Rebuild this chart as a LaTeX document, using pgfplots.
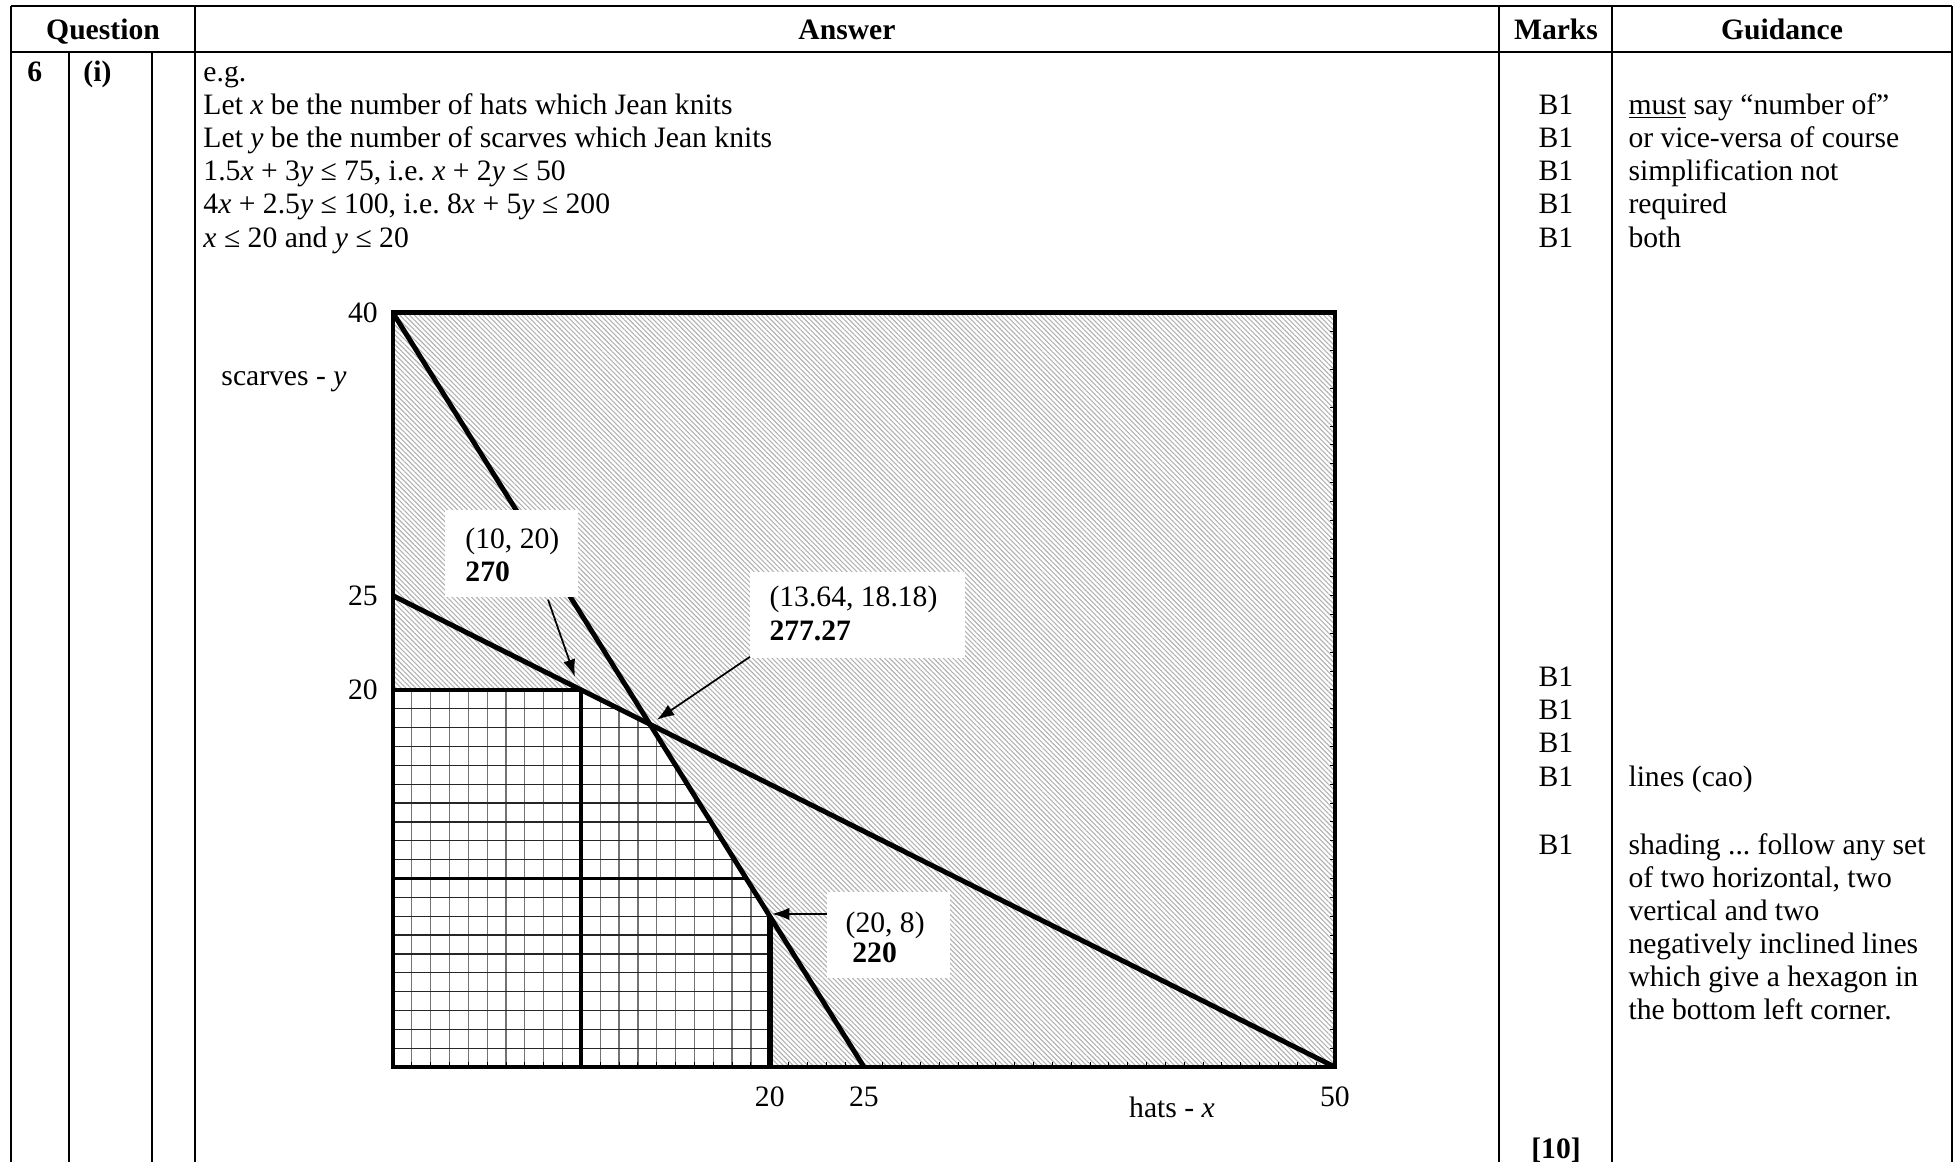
\documentclass[border=0pt,12pt]{standalone}
\usepackage{fontspec}
\setmainfont{Liberation Serif}
\usepackage{pgfplots}
\pgfplotsset{compat=1.18}
\usetikzlibrary{patterns.meta,arrows.meta}
\frenchspacing

\begin{document}
\begin{tikzpicture}[x=0.405pt,y=-0.405pt,
  t/.style={anchor=base west,inner sep=0pt},
  c/.style={anchor=base,inner sep=0pt}]
\useasboundingbox (0,0) rectangle (1954,1162);

% table rules
\begin{scope}[line width=0.8pt]
\draw (11,6) -- (1952,6);
\draw (11,52) -- (1952,52);
\foreach \cx in {11,195,1499,1612,1952} \draw (\cx,6) -- (\cx,1162);
\foreach \cx in {69,152} \draw (\cx,52) -- (\cx,1162);
\end{scope}

% header
\node[c] at (103,39) {\textbf{Question}};
\node[c] at (847,39) {\textbf{Answer}};
\node[c] at (1556,39) {\textbf{Marks}};
\node[c] at (1782,39) {\textbf{Guidance}};

% question column
\node[t] at (27,81) {\textbf{6}};
\node[t] at (83,81) {\textbf{(i)}};

% answer text
\node[t] at (203,81) {e.g.};
\node[t] at (203,114) {Let \textit{x} be the number of hats which Jean knits};
\node[t] at (203,147) {Let \textit{y} be the number of scarves which Jean knits};
\node[t] at (203,180) {1.5\textit{x} + 3\textit{y} ≤ 75, i.e. \textit{x} + 2\textit{y} ≤ 50};
\node[t] at (203,213) {4\textit{x} + 2.5\textit{y} ≤ 100, i.e. 8\textit{x} + 5\textit{y} ≤ 200};
\node[t] at (203,247) {\textit{x} ≤ 20 and \textit{y} ≤ 20};

% marks
\foreach \by in {114,147,180,213,247,686,719,752,786,854} \node[c] at (1556,\by) {B1};
\node[c] at (1556,1158) {\textbf{[10]}};

% guidance
\node[t] at (1628,114) {\underline{must} say “number of”};
\node[t] at (1628,147) {or vice-versa of course};
\node[t] at (1628,180) {simplification not};
\node[t] at (1628,213) {required};
\node[t] at (1628,247) {both};
\node[t] at (1628,786) {lines (cao)};
\node[t] at (1628,854) {shading ... follow any set};
\node[t] at (1628,887) {of two horizontal, two};
\node[t] at (1628,920) {vertical and two};
\node[t] at (1628,953) {negatively inclined lines};
\node[t] at (1628,986) {which give a hexagon in};
\node[t] at (1628,1019) {the bottom left corner.};

% axis titles
\node[c] at (284,385) {scarves - \textit{y}};
\node[c] at (1172,1117) {hats - \textit{x}};

\coordinate (O) at (393,1067);
\begin{axis}[
  at={(O)}, anchor=south west,
  scale only axis, width=381.5pt, height=305.4pt,
  xmin=0, xmax=50, ymin=0, ymax=40,
  axis on top,
  axis line style={line width=2pt},
  xtick={20,25,50}, ytick={20,25,40},
  minor xtick={0,1,...,50}, minor ytick={0,1,...,40},
  xtick pos=bottom, ytick pos=right, yticklabel pos=left,
  tick align=inside,
  major tick length=2pt, minor tick length=2pt,
  every tick/.style={black,line width=0.4pt},
  /pgf/number format/assume math mode=true,
  xticklabel style={yshift=-4pt},
  yticklabel style={xshift=-2pt},
  unbounded coords=jump,
]
% shaded (infeasible) part of the box
\addplot[draw=none, pattern={Lines[angle=-45,distance=1.4pt,line width=0.45pt]}, pattern color=black!30]
  coordinates {(0,0) (50,0) (50,40) (0,40)} -- cycle;
% feasible hexagon
\addplot[draw=none, fill=white]
  coordinates {(0,0) (0,20) (10,20) (13.636,18.182) (20,8) (20,0)} -- cycle;
% fine grid, vertical
\addplot[black!55, line width=0.5pt] coordinates {
  (1,0) (1,20) (1,nan) (2,0) (2,20) (2,nan) (3,0) (3,20) (3,nan)
  (4,0) (4,20) (4,nan) (5,0) (5,20) (5,nan) (6,0) (6,20) (6,nan)
  (7,0) (7,20) (7,nan) (8,0) (8,20) (8,nan) (9,0) (9,20) (9,nan)
  (11,0) (11,19.5) (11,nan) (12,0) (12,19) (12,nan) (13,0) (13,18.5) (13,nan)
  (14,0) (14,17.6) (14,nan) (15,0) (15,16) (15,nan) (16,0) (16,14.4) (16,nan)
  (17,0) (17,12.8) (17,nan) (18,0) (18,11.2) (18,nan) (19,0) (19,9.6)};
% fine grid, horizontal
\addplot[black!85, line width=0.5pt] coordinates {
  (0,1) (20,1) (nan,1) (0,2) (20,2) (nan,2) (0,3) (20,3) (nan,3)
  (0,4) (20,4) (nan,4) (0,5) (20,5) (nan,5) (0,6) (20,6) (nan,6)
  (0,7) (20,7) (nan,7) (0,8) (20,8) (nan,8) (0,9) (19.375,9) (nan,9)
  (0,11) (18.125,11) (nan,11) (0,12) (17.5,12) (nan,12) (0,13) (16.875,13) (nan,13)
  (0,14) (16.25,14) (nan,14) (0,15) (15.625,15) (nan,15) (0,16) (15,16) (nan,16)
  (0,17) (14.375,17) (nan,17) (0,18) (13.75,18) (nan,18) (0,19) (12,19)};
% heavier lines x=10, y=10
\addplot[black, line width=1.6pt] coordinates {(10,0) (10,20)};
\addplot[black, line width=1.6pt] coordinates {(0,10) (18.75,10)};
% x <= 20 and y <= 20
\addplot[black, line width=2.4pt] coordinates {(20,0) (20,8)};
\addplot[black, line width=2pt] coordinates {(0,20) (10,20)};
% constraint lines
\addplot[black, line width=2pt] coordinates {(0,40) (25,0)};
\addplot[black, line width=2pt] coordinates {(0,25) (50,0)};

% labels of vertices
\fill[white] (axis cs:2.76,24.95) rectangle (axis cs:9.82,29.56);
\fill[white] (axis cs:18.95,21.71) rectangle (axis cs:30.36,26.27);
\fill[white] (axis cs:23.04,4.72) rectangle (axis cs:29.56,9.29);
\node[t] at (axis cs:3.82,27.49) {(10, 20)};
\node[t] at (axis cs:3.82,25.74) {\textbf{270}};
\node[t] at (axis cs:19.96,24.41) {(13.64, 18.18)};
\node[t] at (axis cs:19.96,22.61) {\textbf{277.27}};
\node[t] at (axis cs:24.0,7.16) {(20, 8)};
\node[t] at (axis cs:24.36,5.57) {\textbf{220}};
\draw[line width=0.7pt,-{Latex[length=7pt,width=5pt]}] (axis cs:8.23,24.79) -- (axis cs:9.66,20.7);
\draw[line width=0.7pt,-{Latex[length=7pt,width=5pt]}] (axis cs:18.95,21.76) -- (axis cs:14.01,18.42);
\draw[line width=0.7pt,-{Latex[length=7pt,width=5pt]}] (axis cs:23.04,8.12) -- (axis cs:20.12,8.12);
\end{axis}
\end{tikzpicture}
\end{document}
